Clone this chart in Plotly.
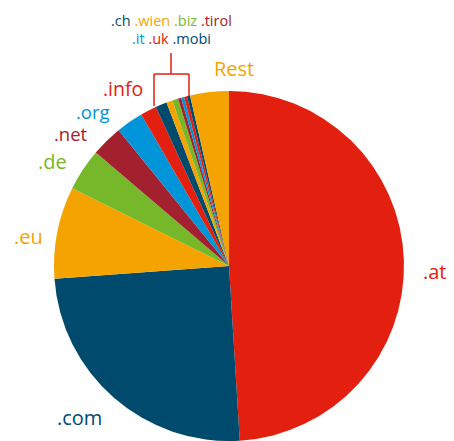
import plotly.graph_objects as go

# Data (share of domains, %)
labels = [".at", ".com", ".eu", ".de", ".net", ".org", ".info",
          ".ch", ".wien", ".biz", ".tirol", ".it", ".uk", ".mobi", "Rest"]
values = [49.0, 24.8, 8.5, 3.9, 2.9, 2.5, 1.5,
          1.05, 0.57, 0.54, 0.29, 0.27, 0.28, 0.29, 3.57]

RED = "#E3200F"
DBLUE = "#004A6E"
ORANGE = "#F5A300"
GREEN = "#76B82A"
DRED = "#A3202E"
BLUE = "#0095D9"

colors = [RED, DBLUE, ORANGE, GREEN, DRED, BLUE, RED,
          DBLUE, ORANGE, GREEN, DRED, BLUE, RED, DBLUE, ORANGE]

W, H = 454, 441
FONT = "Open Sans"

fig = go.Figure(go.Pie(
    labels=labels, values=values, sort=False, direction="clockwise",
    rotation=0, textinfo="none", showlegend=False,
    marker=dict(colors=colors, line=dict(width=0)),
    domain=dict(x=[54 / W, 404 / W], y=[0, 350 / H]),
))

def px(x, y):
    return x / W, 1 - y / H

big_labels = [
    (".at", RED, 435, 271, 20),
    (".com", DBLUE, 79, 417, 20),
    (".eu", ORANGE, 28, 236, 20),
    (".de", GREEN, 52, 161, 20),
    (".net", DRED, 71, 134, 18.5),
    (".org", BLUE, 93, 111, 18.5),
    (".info", RED, 123, 89, 19.5),
    ("Rest", ORANGE, 234, 68, 20),
]
annotations = []
for t, c, x, y, s in big_labels:
    ax, ay = px(x, y)
    annotations.append(dict(text=t, x=ax, y=ay, xref="paper", yref="paper",
                            showarrow=False, xanchor="center", yanchor="middle",
                            borderpad=0,
                            font=dict(family=FONT, size=s, color=c)))

def span(t, c):
    return f'<span style="color:{c}">{t}</span>'

line1 = " ".join([span(".ch", DBLUE), span(".wien", ORANGE),
                  span(".biz", GREEN), span(".tirol", DRED)])
line2 = " ".join([span(".it", BLUE), span(".uk", RED), span(".mobi", DBLUE)])
for t, y in [(line1, 20), (line2, 39)]:
    ax, ay = px(171, y)
    annotations.append(dict(text=t, x=ax, y=ay, xref="paper", yref="paper",
                            showarrow=False, xanchor="center", yanchor="middle",
                            borderpad=0,
                            font=dict(family=FONT, size=14.5)))

# bracket pointing at the small slices
shapes = []
segs = [((171, 53), (171, 74)), ((154, 74), (189, 74)),
        ((154, 74), (154, 106)), ((189, 74), (189, 96))]
for (x0, y0), (x1, y1) in segs:
    a0, b0 = px(x0, y0)
    a1, b1 = px(x1, y1)
    shapes.append(dict(type="line", xref="paper", yref="paper",
                       x0=a0, y0=b0, x1=a1, y1=b1,
                       line=dict(color=RED, width=1.5)))

fig.update_layout(
    width=W, height=H, margin=dict(l=0, r=0, t=0, b=0),
    paper_bgcolor="white", plot_bgcolor="white",
    annotations=annotations, shapes=shapes,
)
fig.write_html("out.html", config={"displayModeBar": False},
               post_script="document.body.style.margin='0';"
                           "document.body.style.overflow='hidden';")
